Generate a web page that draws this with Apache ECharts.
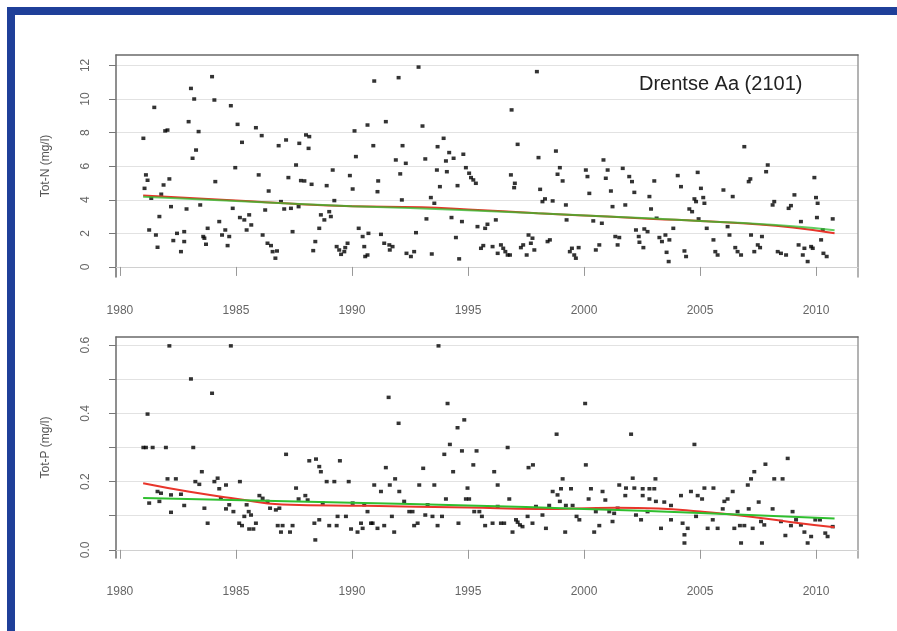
<!DOCTYPE html>
<html>
<head>
<meta charset="utf-8">
<script src="https://cdn.jsdelivr.net/npm/echarts@6/dist/echarts.min.js"></script>
<style>
  html, body { margin: 0; padding: 0; background: #fff; }
  #chart { width: 897px; height: 631px; }
</style>
</head>
<body>
<div id="chart"></div>
<script>
// Drentse Aa (2101) - Tot-N and Tot-P, 1981-2010

const stationName = 'Drentse Aa (2101)';
const yearTicks = [1980, 1985, 1990, 1995, 2000, 2005, 2010];
const totNTicks = [0, 2, 4, 6, 8, 10, 12];
const totPTicks = [0, 0.1, 0.2, 0.3, 0.4, 0.5, 0.6];
const totPLabels = [0, 0.2, 0.4, 0.6];

// Tot-N samples [year, mg/l]
const totN = [
  [1981.01, 7.66], [1981.48, 9.50], [1981.12, 5.48], [1981.19, 5.16], [1981.06, 4.68], [1982.05, 8.15],
  [1981.95, 8.10], [1982.13, 5.24], [1981.88, 4.88], [1981.78, 4.33], [1981.35, 4.09], [1982.20, 3.59],
  [1981.70, 3.00], [1981.26, 2.20], [1981.55, 1.90], [1981.62, 1.17], [1982.30, 1.57], [1982.46, 2.00],
  [1982.63, 0.91], [1982.77, 1.51], [1982.77, 2.10], [1982.87, 3.45], [1982.96, 8.65], [1983.06, 10.63],
  [1983.20, 10.00], [1983.39, 8.06], [1983.28, 6.96], [1983.13, 6.47], [1983.46, 3.69], [1983.59, 1.81],
  [1983.71, 1.35], [1983.78, 2.30], [1983.64, 1.71], [1983.97, 11.33], [1984.07, 9.94], [1984.11, 5.08],
  [1984.28, 2.70], [1984.40, 1.90], [1984.54, 2.20], [1984.64, 1.27], [1984.71, 1.81], [1984.78, 9.60],
  [1984.86, 3.49], [1984.97, 5.91], [1985.07, 8.49], [1985.26, 7.42], [1985.17, 2.94], [1985.36, 2.80],
  [1985.46, 2.20], [1985.57, 3.10], [1985.66, 2.50], [1985.86, 8.29], [1985.98, 5.48], [1986.11, 7.82],
  [1986.15, 1.90], [1986.26, 3.39], [1986.41, 4.52], [1986.36, 1.41], [1986.51, 1.27], [1986.58, 0.91],
  [1986.70, 0.52], [1986.77, 0.95], [1986.84, 7.22], [1986.94, 3.89], [1987.08, 3.45], [1987.16, 7.56],
  [1987.26, 5.32], [1987.37, 3.49], [1987.44, 2.10], [1987.59, 6.07], [1987.70, 3.59], [1987.73, 7.36],
  [1987.80, 5.14], [1987.95, 5.12], [1988.02, 7.86], [1988.16, 7.76], [1988.13, 7.06], [1988.26, 4.92],
  [1988.42, 1.51], [1988.33, 0.97], [1988.59, 2.30], [1988.66, 3.10], [1988.81, 2.80], [1988.91, 4.84],
  [1989.02, 3.29], [1989.09, 3.00], [1989.17, 5.77], [1989.24, 3.95], [1989.34, 1.21], [1989.45, 1.01],
  [1989.53, 0.75], [1989.67, 0.91], [1989.71, 1.15], [1989.81, 1.41], [1989.91, 5.44], [1990.03, 4.64],
  [1990.11, 8.10], [1990.17, 6.57], [1990.29, 2.30], [1990.46, 1.81], [1990.53, 1.21], [1990.57, 0.62],
  [1990.67, 8.45], [1990.96, 11.07], [1990.92, 7.22], [1991.13, 5.12], [1991.10, 4.48], [1990.71, 2.00],
  [1990.67, 0.71], [1991.25, 1.94], [1991.46, 8.65], [1991.39, 1.41], [1991.61, 1.31], [1991.75, 1.21],
  [1991.63, 1.01], [1992.01, 11.27], [1991.89, 6.37], [1992.08, 5.54], [1992.18, 7.22], [1992.15, 3.99],
  [1992.32, 6.17], [1992.35, 0.81], [1992.54, 0.62], [1992.68, 0.91], [1992.76, 2.04], [1992.87, 11.90],
  [1993.04, 8.39], [1993.16, 6.43], [1993.21, 2.86], [1993.40, 4.13], [1993.44, 0.77], [1993.55, 3.79],
  [1993.69, 7.16], [1993.66, 5.77], [1993.79, 4.78], [1993.95, 7.66], [1994.05, 6.31], [1994.09, 5.67],
  [1994.19, 6.81], [1994.29, 2.94], [1994.38, 6.47], [1994.48, 1.75], [1994.55, 4.84], [1994.62, 0.48],
  [1994.74, 2.70], [1994.80, 6.71], [1994.91, 5.91], [1995.05, 5.58], [1995.13, 5.32], [1995.23, 5.18],
  [1995.34, 4.98], [1995.41, 2.40], [1995.56, 1.11], [1995.66, 1.27], [1995.74, 2.30], [1995.84, 2.54],
  [1996.06, 1.21], [1996.20, 2.80], [1996.28, 0.81], [1996.42, 1.31], [1996.52, 1.11], [1996.61, 0.91],
  [1996.71, 0.71], [1996.81, 0.71], [1996.88, 9.35], [1996.85, 5.48], [1997.02, 4.98], [1996.99, 4.72],
  [1997.14, 7.30], [1997.28, 1.15], [1997.38, 1.31], [1997.53, 0.71], [1997.61, 1.90], [1997.71, 1.41],
  [1997.78, 1.71], [1997.86, 1.01], [1997.97, 11.63], [1998.04, 6.51], [1998.11, 4.62], [1998.21, 3.89],
  [1998.32, 4.05], [1998.43, 1.51], [1998.53, 1.61], [1998.65, 3.93], [1998.79, 6.90], [1998.86, 5.52],
  [1998.96, 5.91], [1999.08, 5.12], [1999.22, 3.69], [1999.25, 2.80], [1999.39, 0.91], [1999.48, 1.11],
  [1999.58, 0.71], [1999.65, 0.52], [1999.77, 1.15], [2000.08, 5.77], [2000.15, 5.38], [2000.23, 4.38],
  [2000.40, 2.74], [2000.51, 1.01], [2000.66, 1.31], [2000.77, 2.60], [2000.84, 6.37], [2000.94, 5.28],
  [2001.02, 5.77], [2001.16, 4.52], [2001.23, 3.59], [2001.35, 1.81], [2001.67, 5.87], [2001.95, 5.38],
  [2002.07, 5.08], [2002.17, 4.44], [2001.78, 3.69], [2001.52, 1.75], [2001.45, 1.31], [2002.24, 2.20],
  [2002.36, 1.81], [2002.39, 1.47], [2002.56, 1.15], [2002.60, 2.26], [2002.74, 2.10], [2002.82, 4.19],
  [2002.89, 3.45], [2003.03, 5.12], [2003.13, 2.90], [2003.25, 1.75], [2003.36, 1.51], [2003.51, 1.90],
  [2003.56, 0.87], [2003.65, 0.32], [2003.68, 1.61], [2003.85, 2.30], [2004.04, 5.44], [2004.18, 4.78],
  [2004.33, 0.95], [2004.40, 0.62], [2004.54, 3.45], [2004.66, 3.29], [2004.76, 4.05], [2004.83, 3.89],
  [2004.90, 5.63], [2004.94, 2.86], [2005.04, 4.68], [2005.14, 4.13], [2005.19, 3.79], [2005.29, 2.30],
  [2005.58, 1.61], [2005.66, 0.91], [2005.76, 0.71], [2006.01, 4.58], [2006.19, 2.40], [2006.27, 1.90],
  [2006.41, 4.19], [2006.52, 1.15], [2006.62, 0.91], [2006.77, 0.71], [2006.91, 7.16], [2007.10, 5.08],
  [2007.17, 5.24], [2007.20, 1.90], [2007.34, 0.91], [2007.49, 1.31], [2007.59, 1.15], [2007.67, 1.81],
  [2007.85, 5.67], [2007.92, 6.07], [2008.13, 3.69], [2008.20, 3.89], [2008.35, 0.91], [2008.49, 0.81],
  [2008.71, 0.71], [2008.82, 3.49], [2008.92, 3.65], [2009.07, 4.29], [2009.25, 1.31], [2009.35, 2.70],
  [2009.43, 0.71], [2009.50, 1.11], [2009.64, 0.32], [2009.79, 1.21], [2009.86, 1.11], [2009.93, 5.32],
  [2010.00, 4.13], [2010.07, 3.79], [2010.04, 2.94], [2010.22, 1.61], [2010.32, 0.81], [2010.46, 0.62],
  [2010.72, 2.86], [2010.29, 2.20]
];

// Tot-P samples [year, mg/l]
const totP = [
  [1982.13, 0.598], [1984.78, 0.598], [1983.06, 0.501], [1983.97, 0.459], [1981.19, 0.398], [1981.01, 0.300],
  [1981.12, 0.300], [1981.41, 0.300], [1981.98, 0.300], [1983.16, 0.300], [1983.53, 0.229], [1982.05, 0.208],
  [1982.41, 0.208], [1983.25, 0.200], [1983.42, 0.192], [1981.62, 0.171], [1981.77, 0.166], [1981.26, 0.137],
  [1981.70, 0.142], [1982.20, 0.161], [1982.63, 0.163], [1982.77, 0.130], [1982.20, 0.110], [1983.64, 0.122],
  [1983.78, 0.078], [1984.07, 0.200], [1984.21, 0.210], [1984.28, 0.179], [1984.57, 0.190], [1984.35, 0.151],
  [1984.57, 0.120], [1984.71, 0.132], [1984.89, 0.112], [1985.17, 0.200], [1985.36, 0.098], [1985.46, 0.132],
  [1985.55, 0.112], [1985.65, 0.102], [1985.26, 0.071], [1985.14, 0.078], [1985.57, 0.061], [1985.75, 0.061],
  [1985.86, 0.078], [1986.01, 0.159], [1986.15, 0.151], [1986.36, 0.142], [1986.47, 0.122], [1986.72, 0.117],
  [1986.87, 0.122], [1986.80, 0.071], [1986.94, 0.052], [1987.01, 0.071], [1987.16, 0.280], [1987.33, 0.052],
  [1987.44, 0.071], [1987.59, 0.181], [1987.70, 0.149], [1987.99, 0.159], [1988.09, 0.146], [1988.16, 0.261],
  [1988.45, 0.266], [1988.59, 0.244], [1988.66, 0.229], [1988.38, 0.078], [1988.42, 0.029], [1988.59, 0.088],
  [1988.91, 0.200], [1989.24, 0.200], [1988.74, 0.137], [1989.02, 0.071], [1989.34, 0.071], [1989.48, 0.261],
  [1989.38, 0.098], [1989.74, 0.098], [1989.86, 0.200], [1989.96, 0.061], [1990.24, 0.052], [1990.39, 0.078],
  [1990.46, 0.063], [1990.03, 0.137], [1990.53, 0.132], [1993.73, 0.598], [1991.58, 0.447], [1992.01, 0.371],
  [1994.12, 0.429], [1994.84, 0.381], [1994.55, 0.358], [1994.22, 0.309], [1993.98, 0.280], [1994.74, 0.290],
  [1995.37, 0.290], [1995.23, 0.249], [1994.36, 0.229], [1996.71, 0.300], [1991.46, 0.241], [1993.07, 0.239],
  [1996.13, 0.229], [1997.61, 0.241], [1997.80, 0.249], [1998.82, 0.339], [2000.05, 0.429], [2000.08, 0.249],
  [1999.08, 0.208], [1990.96, 0.190], [1991.25, 0.171], [1991.63, 0.190], [1991.86, 0.208], [1992.04, 0.171],
  [1992.90, 0.190], [1993.55, 0.190], [1994.98, 0.181], [1996.28, 0.190], [1994.91, 0.149], [1995.05, 0.149],
  [1996.78, 0.149], [1994.05, 0.149], [1990.67, 0.112], [1990.82, 0.078], [1990.89, 0.078], [1991.10, 0.063],
  [1991.39, 0.071], [1991.82, 0.052], [1991.72, 0.098], [1992.25, 0.142], [1992.47, 0.112], [1992.61, 0.112],
  [1992.68, 0.071], [1992.83, 0.078], [1993.16, 0.102], [1993.26, 0.132], [1993.47, 0.098], [1993.69, 0.071],
  [1993.88, 0.098], [1994.59, 0.078], [1995.27, 0.112], [1995.49, 0.112], [1995.60, 0.098], [1995.74, 0.071],
  [1996.06, 0.078], [1996.28, 0.127], [1996.42, 0.078], [1996.56, 0.078], [1996.92, 0.052], [1997.07, 0.088],
  [1997.14, 0.081], [1997.24, 0.073], [1997.35, 0.068], [1997.57, 0.098], [1997.78, 0.078], [1997.93, 0.127],
  [1998.21, 0.102], [1998.36, 0.063], [1998.50, 0.130], [1998.65, 0.171], [1998.86, 0.161], [1999.01, 0.179],
  [1998.96, 0.142], [1999.19, 0.052], [1999.22, 0.130], [1999.44, 0.179], [1999.51, 0.130], [1999.68, 0.098],
  [1999.80, 0.088], [2000.20, 0.149], [2000.30, 0.179], [2000.44, 0.052], [2000.51, 0.112], [2000.66, 0.071],
  [2000.80, 0.171], [2000.92, 0.146], [2001.09, 0.112], [2001.23, 0.083], [2001.30, 0.107], [2002.03, 0.339],
  [2004.76, 0.309], [2008.78, 0.268], [2007.82, 0.251], [2007.34, 0.229], [2007.20, 0.208], [2007.06, 0.190],
  [2008.20, 0.208], [2008.56, 0.208], [2002.10, 0.210], [2003.08, 0.208], [2001.52, 0.190], [2001.81, 0.181],
  [2002.17, 0.181], [2002.53, 0.179], [2002.82, 0.179], [2003.03, 0.179], [2001.78, 0.159], [2002.53, 0.159],
  [2002.82, 0.149], [2003.10, 0.142], [2003.46, 0.140], [2003.75, 0.130], [2004.18, 0.159], [2004.61, 0.171],
  [2004.90, 0.159], [2005.09, 0.149], [2005.19, 0.181], [2005.58, 0.181], [2006.05, 0.142], [2006.19, 0.149],
  [2006.41, 0.171], [2005.98, 0.120], [2001.45, 0.122], [2002.24, 0.102], [2002.46, 0.088], [2002.74, 0.112],
  [2003.32, 0.063], [2003.75, 0.088], [2004.25, 0.078], [2004.47, 0.063], [2004.33, 0.044], [2004.33, 0.020],
  [2004.83, 0.098], [2005.33, 0.063], [2005.55, 0.088], [2005.76, 0.063], [2006.48, 0.063], [2006.62, 0.112],
  [2006.77, 0.020], [2006.72, 0.071], [2006.91, 0.071], [2007.10, 0.120], [2007.27, 0.063], [2007.53, 0.140],
  [2007.67, 0.020], [2007.63, 0.083], [2007.77, 0.073], [2008.13, 0.120], [2008.49, 0.083], [2008.68, 0.042],
  [2008.99, 0.112], [2009.14, 0.088], [2008.92, 0.071], [2009.35, 0.073], [2009.50, 0.052], [2009.64, 0.020],
  [2009.79, 0.039], [2009.97, 0.088], [2010.17, 0.088], [2010.40, 0.049], [2010.50, 0.039], [2010.72, 0.068]
];

// trend lines
const totNSmooth = [
  [1981.0, 4.25], [1985.0, 3.95], [1988.0, 3.72], [1990.0, 3.62], [1993.0, 3.55], [1995.0, 3.42],
  [1998.0, 3.20], [2001.0, 3.00], [2003.0, 2.86], [2005.0, 2.74], [2007.0, 2.58], [2009.0, 2.35], [2010.8, 2.00]
];
const totNTrend = [
  [1981.0, 4.18], [1985.0, 3.92], [1990.0, 3.62], [1995.0, 3.38], [2001.0, 3.00], [2005.0, 2.74],
  [2009.0, 2.42], [2010.8, 2.18]
];
const totPSmooth = [
  [1981.0, 0.195], [1983.0, 0.170], [1985.0, 0.150], [1987.0, 0.133], [1990.6, 0.129], [1995.0, 0.124],
  [1998.0, 0.120], [2001.4, 0.123], [2003.2, 0.121], [2005.0, 0.112], [2007.1, 0.098], [2009.3, 0.078], [2010.8, 0.066]
];
const totPTrend = [
  [1981.0, 0.152], [1990.0, 0.138], [1995.0, 0.130], [2000.0, 0.120], [2005.0, 0.108], [2010.8, 0.092]
];

const chart = echarts.init(document.getElementById('chart'));
const font = 'Liberation Sans, Arial, sans-serif';
const xMin = 1979.83, xMax = 2011.81;

function bottomX(gridIndex) {
  return {
    type: 'value', gridIndex: gridIndex, position: 'bottom', min: xMin, max: xMax,
    axisLine: { show: true, lineStyle: { color: '#d0d0d0', width: 1 } },
    axisTick: { show: true, length: 9, customValues: yearTicks, lineStyle: { color: '#999' } },
    axisLabel: { customValues: yearTicks, margin: 28, color: '#666', fontSize: 12, fontFamily: font,
      formatter: function (v) { return String(Math.round(v)); } },
    splitLine: { show: false }
  };
}
function topX(gridIndex) {
  return {
    type: 'value', gridIndex: gridIndex, position: 'top', min: xMin, max: xMax,
    axisLine: { show: true, onZero: false, lineStyle: { color: '#6a6a6a', width: 1.5 } },
    axisTick: { show: false }, axisLabel: { show: false }, splitLine: { show: false }
  };
}
function leftY(gridIndex, min, max, ticks, labels, name, digits, split) {
  return {
    type: 'value', gridIndex: gridIndex, position: 'left', min: min, max: max, splitNumber: split,
    name: name, nameLocation: 'middle', nameGap: 64,
    nameTextStyle: { color: '#555', fontSize: 12, fontFamily: font },
    axisLine: { show: true, onZero: false, lineStyle: { color: '#6a6a6a', width: 1.5 } },
    axisTick: { show: true, length: 7, customValues: ticks, lineStyle: { color: '#777' } },
    axisLabel: { customValues: labels, rotate: 90, margin: 24, color: '#666', fontSize: 12, fontFamily: font,
      formatter: function (v) { return v.toFixed(digits); } },
    splitLine: { show: true, lineStyle: { color: '#e2e2e2', width: 1 } }
  };
}
function rightY(gridIndex, min, max) {
  return {
    type: 'value', gridIndex: gridIndex, position: 'right', min: min, max: max,
    axisLine: { show: true, onZero: false, lineStyle: { color: '#9a9a9a', width: 1.5 } },
    axisTick: { show: false }, axisLabel: { show: false }, splitLine: { show: false }
  };
}

const dotStyle = { symbol: 'rect', symbolSize: [4, 3.5], itemStyle: { color: '#000' } };

chart.setOption({
  backgroundColor: '#fff',
  animation: false,
  title: {
    text: stationName, left: 634, top: 69,
    textStyle: { color: '#222', fontSize: 20, fontWeight: 'normal', fontFamily: font }
  },
  graphic: [
    { type: 'rect', shape: { x: 7, y: 7, width: 890, height: 8 }, style: { fill: '#1f3f99' } },
    { type: 'rect', shape: { x: 7, y: 7, width: 8, height: 624 }, style: { fill: '#1f3f99' } }
  ],
  grid: [
    { left: 116, top: 55, width: 742, height: 222 },
    { left: 116, top: 337, width: 742, height: 221 }
  ],
  xAxis: [bottomX(0), topX(0), bottomX(1), topX(1)],
  yAxis: [
    leftY(0, -0.6, 12.62, totNTicks, totNTicks, 'Tot-N (mg/l)', 0, 7),
    rightY(0, -0.6, 12.62),
    leftY(1, -0.024, 0.624, totPTicks, totPLabels, 'Tot-P (mg/l)', 1, 7),
    rightY(1, -0.024, 0.624)
  ],
  series: [
    Object.assign({ type: 'scatter', xAxisIndex: 0, yAxisIndex: 0, data: totN }, dotStyle),
    { type: 'line', xAxisIndex: 0, yAxisIndex: 0, data: totNSmooth, smooth: true, symbol: 'none',
      lineStyle: { color: '#e8352b', width: 2 } },
    { type: 'line', xAxisIndex: 0, yAxisIndex: 0, data: totNTrend, smooth: true, symbol: 'none',
      lineStyle: { color: '#2fbf2f', width: 2, opacity: 0.75 } },
    Object.assign({ type: 'scatter', xAxisIndex: 2, yAxisIndex: 2, data: totP }, dotStyle),
    { type: 'line', xAxisIndex: 2, yAxisIndex: 2, data: totPSmooth, smooth: true, symbol: 'none',
      lineStyle: { color: '#e8352b', width: 2 } },
    { type: 'line', xAxisIndex: 2, yAxisIndex: 2, data: totPTrend, smooth: true, symbol: 'none',
      lineStyle: { color: '#2fbf2f', width: 2 } }
  ]
});
</script>
</body>
</html>
